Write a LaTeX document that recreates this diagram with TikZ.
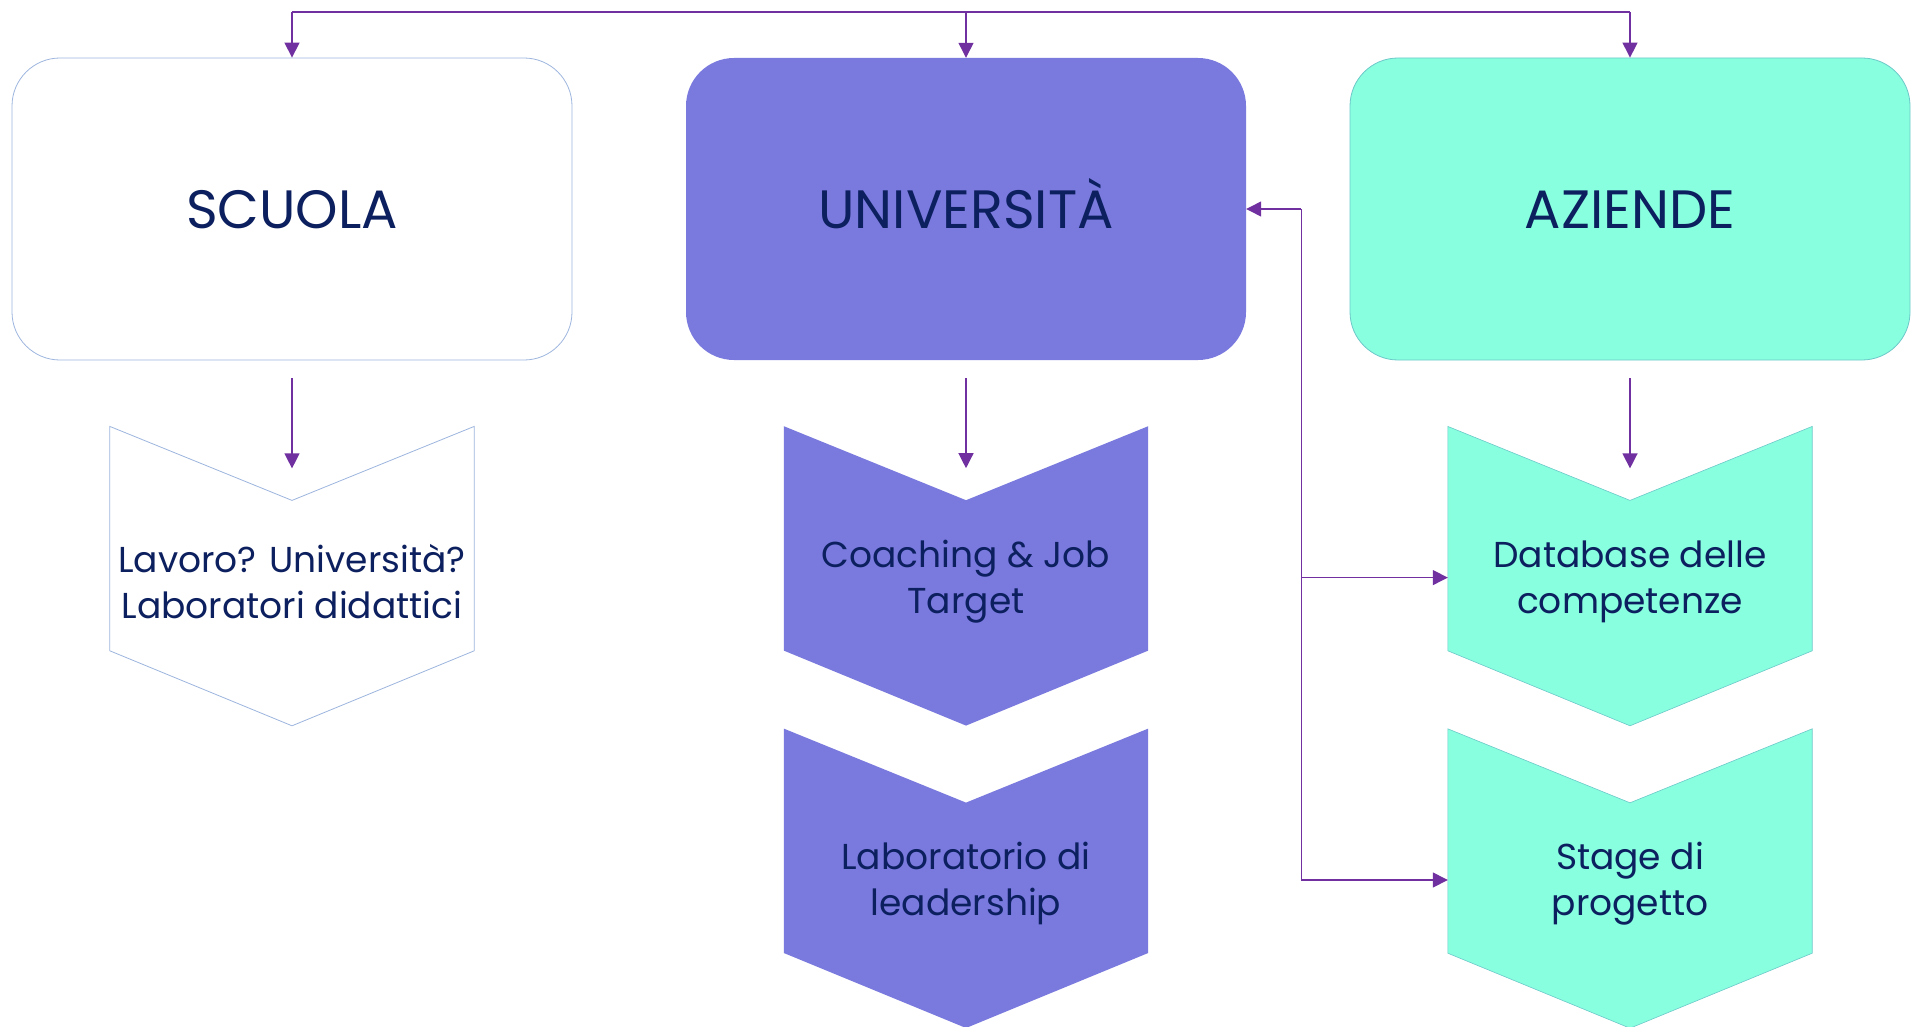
\documentclass[tikz,border=0pt]{standalone}
\usepackage{fontspec}
\setmainfont{Poppins}
\usepackage{xcolor}
\usepackage{tikz}
\usetikzlibrary{arrows.meta, positioning, calc, backgrounds}

\definecolor{navy}{HTML}{0C1F5E}
\definecolor{unicol}{HTML}{7A7ADE}
\definecolor{azcol}{HTML}{88FFDF}
\definecolor{azline}{HTML}{6CC8C8}
\definecolor{scline}{HTML}{9DB5DE}
\definecolor{arrowc}{HTML}{7030A0}

\begin{document}
\begin{tikzpicture}[
    x=1pt, y=-1pt,
    node distance=140pt,
    box/.style={rectangle, rounded corners=48pt, minimum width=560pt, minimum height=302pt, text height=38pt, text depth=0pt, text=navy, font=\fontsize{54}{60}\selectfont},
    scuolabox/.style={box, draw=scline, line width=0.8pt, fill=white},
    unibox/.style={box, fill=unicol},
    azbox/.style={box, draw=azline, line width=0.8pt, fill=azcol},
    chev/.style={minimum width=364pt, minimum height=162pt, inner sep=0pt, align=center, text=navy, font=\fontsize{36}{46}\selectfont},
    scfill/.style={draw=scline, line width=0.8pt, fill=white},
    unifill/.style={fill=unicol},
    azfill/.style={draw=azline, line width=0.6pt, fill=azcol},
    link/.style={draw=arrowc, line width=1.3pt, -{Triangle[length=15pt, width=15pt]}},
    wire/.style={draw=arrowc, line width=1.3pt}
]
\useasboundingbox (0,0) rectangle (1921,1027);

% Top row
\node[scuolabox] (scuola) at (292,209) {SCUOLA};
\node[unibox] (uni) at (966,209) {UNIVERSITÀ};
\node[azbox] (aziende) at (1630,209) {AZIENDE};

% Chevron steps
\node[chev, below=of scuola] (lavoro) {Lavoro? Università?\\Laboratori didattici};
\node[chev, below=of uni] (coach) {Coaching \& Job\\Target};
\node[chev, below=of coach] (lead) {Laboratorio di\\leadership};
\node[chev, below=of aziende] (db) {Database delle\\competenze};
\node[chev, below=of db] (stage) {Stage di\\progetto};

\begin{scope}[on background layer]
\foreach \n/\s in {lavoro/scfill, coach/unifill, lead/unifill, db/azfill, stage/azfill}
    \path[\s] ($(\n.north west)+(0,-74)$) -- (\n.north) -- ($(\n.north east)+(0,-74)$)
        -- ($(\n.south east)+(0,-12)$) -- ($(\n.south)+(0,63)$) -- ($(\n.south west)+(0,-12)$) -- cycle;
\end{scope}

% Top bracket
\coordinate (topl) at (scuola.north |- 0,12);
\coordinate (topm) at (uni.north |- 0,12);
\coordinate (topr) at (aziende.north |- 0,12);
\draw[wire] (topl) -- (topr);
\draw[link] (topl) -- (scuola.north);
\draw[link] (topm) -- (uni.north);
\draw[link] (topr) -- (aziende.north);

% Down to the steps
\draw[link] ([yshift=-18pt]scuola.south) -- ([yshift=32pt]lavoro.north);
\draw[link] ([yshift=-18pt]uni.south) -- ([yshift=32pt]coach.north);
\draw[link] ([yshift=-18pt]aziende.south) -- ([yshift=32pt]db.north);

% Side links
\coordinate (jn) at ($(uni.east)+(55,0)$);
\draw[link] (jn) -- (uni.east);
\draw[link] (jn) |- ([yshift=4pt]db.west);
\draw[link] (jn) |- ([yshift=4pt]stage.west);

\end{tikzpicture}
\end{document}
